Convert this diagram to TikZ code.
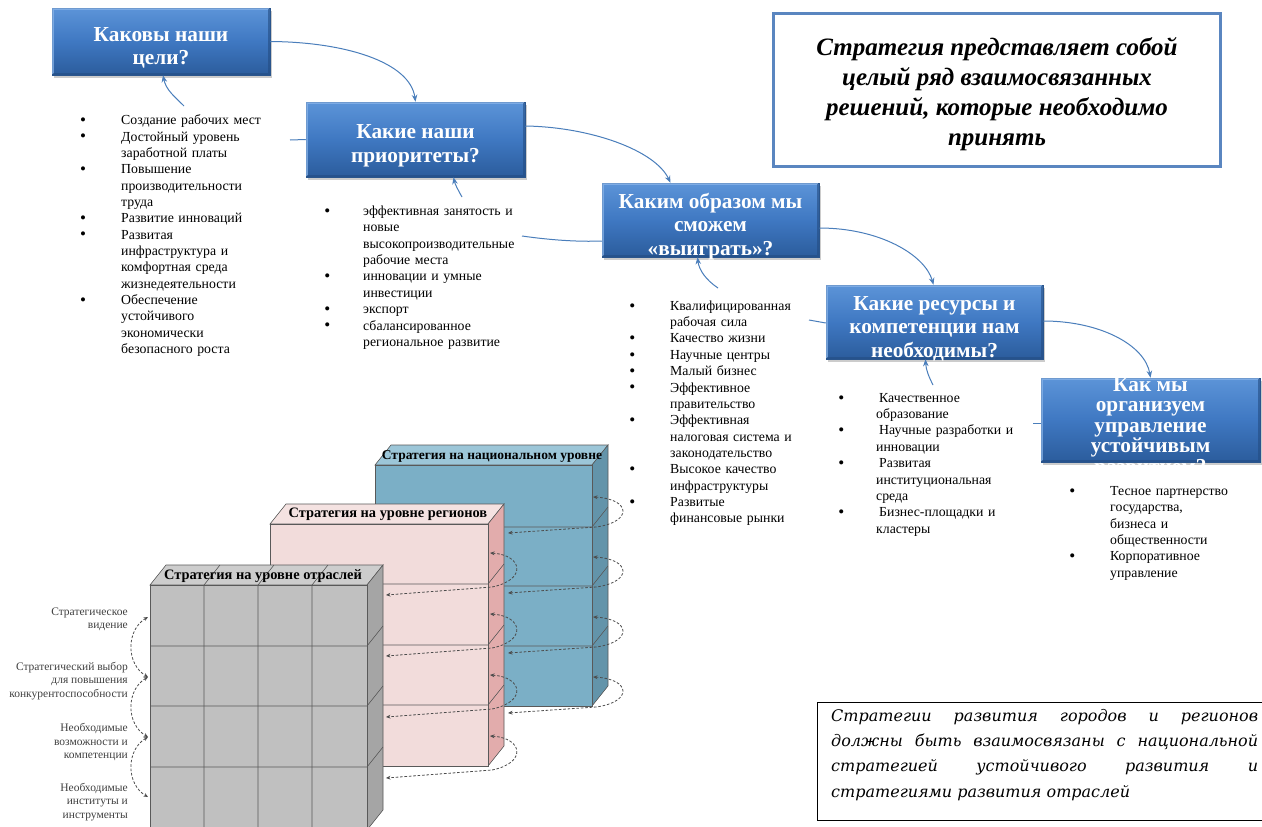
\documentclass[tikz,border=0pt]{standalone}
\usepackage{fontspec}
\setmainfont{Liberation Serif}
\newfontfamily\djs{DejaVu Serif}
\usetikzlibrary{arrows.meta,shadows}

\definecolor{qtop}{HTML}{5C94D8}
\definecolor{qmid}{HTML}{3F78C2}
\definecolor{qbot}{HTML}{2B5C9C}
\definecolor{qedge}{HTML}{2A558C}
\definecolor{qlight}{HTML}{8DB8EC}
\definecolor{qdark}{HTML}{234C82}
\definecolor{conncol}{HTML}{4A7EBB}
\definecolor{frameblue}{HTML}{5A86C0}
\definecolor{natF}{HTML}{7BAFC6}
\definecolor{natS}{HTML}{6394AA}
\definecolor{natT}{HTML}{9CC6D8}
\definecolor{regF}{HTML}{F2DCDB}
\definecolor{regS}{HTML}{E2ACAC}
\definecolor{regT}{HTML}{F4E2E1}
\definecolor{secF}{HTML}{C0C0C0}
\definecolor{secS}{HTML}{A5A5A5}
\definecolor{secT}{HTML}{CDCDCD}

\newcommand{\bul}{\raisebox{-0.8pt}{\fontsize{17}{17}\selectfont\textbullet}}
\newcommand{\blist}[2]{\begin{list}{\bul}{\setlength{\leftmargin}{37pt}\setlength{\labelsep}{#1}\setlength{\labelwidth}{6pt}\setlength{\itemsep}{0pt}\setlength{\parsep}{0pt}\setlength{\topsep}{0pt}\setlength{\partopsep}{0pt}\setlength{\itemindent}{0pt}}#2\end{list}}

\newcommand{\slab}[7]{%
  \filldraw[blkedge,fill=#7] (#1,#2) -- (#1+16,#2-20) -- (#3+16,#2-20) -- (#3,#2) -- cycle;
  \filldraw[blkedge,fill=#6] (#3,#2) -- (#3+16,#2-20) -- (#3+16,#4-20) -- (#3,#4) -- cycle;
  \filldraw[blkedge,fill=#5] (#1,#2) rectangle (#3,#4);}

\newcommand{\bevel}[1]{%
  \draw[draw=qlight,line width=2pt,opacity=0.7] ([shift={(1.6pt,1.6pt)}]#1.south west) -- ([shift={(1.6pt,-1.6pt)}]#1.north west) -- ([shift={(-1.6pt,-1.6pt)}]#1.north east);
  \draw[draw=qdark,line width=2pt,opacity=0.6] ([shift={(-1.6pt,-1.6pt)}]#1.north east) -- ([shift={(-1.6pt,1.6pt)}]#1.south east) -- ([shift={(1.6pt,1.6pt)}]#1.south west);}

\begin{document}
\begin{tikzpicture}[x=1pt,y=-1pt,
  blkedge/.style={draw=black!65,line width=0.6pt},
  loopar/.style={draw=black!70,line width=0.8pt,dash pattern=on 2.6pt off 1.8pt,
    {Stealth[length=4.5pt,width=3.8pt]}-{Stealth[length=4.5pt,width=3.8pt]}},
  blktitle/.style={inner sep=0pt,font=\bfseries\fontsize{14.4}{16}\selectfont},
  glabel/.style={inner sep=0pt,align=right,anchor=east,text=black!75,font=\fontsize{11.5}{13.3}\selectfont},
  qbox/.style={rectangle,draw=qedge,line width=0.5pt,top color=qtop,bottom color=qbot,middle color=qmid,
    inner sep=0pt,drop shadow={opacity=0.4,shadow xshift=2pt,shadow yshift=-3pt}},
  qtxt/.style={inner sep=0pt,align=center,text=white,font=\bfseries\fontsize{21.3}{23.5}\selectfont},
  conn/.style={draw=conncol,line width=1pt,-{Stealth[length=7pt,width=5.5pt]}},
  connl/.style={draw=conncol,line width=1pt},
  lst/.style={anchor=north west,inner sep=0pt,text width=200pt,align=left,font=\fontsize{13.8}{16.35}\selectfont}
]
\useasboundingbox (0,0) rectangle (1262,827);
\fill[white] (0,0) rectangle (1262,827);

% ---------- 3D blocks ----------
\slab{375}{465}{592}{706}{natF}{natS}{natT}
\foreach \r in {527,586,646}{\draw[blkedge] (375,\r) -- (592,\r) -- (608,\r-20);}
\node[blktitle,font=\bfseries\fontsize{13.5}{15}\selectfont] (tnat) at (492,456) {Стратегия на национальном уровне};

\slab{270}{524}{488}{766}{regF}{regS}{regT}
\foreach \r in {584,645,705}{\draw[blkedge] (270,\r) -- (488,\r) -- (504,\r-20);}
\node[blktitle] (treg) at (388,514) {Стратегия на уровне регионов};

\slab{150}{585}{367}{830}{secF}{secS}{secT}
\foreach \r in {646,706,767}{\draw[blkedge] (150,\r) -- (367,\r) -- (383,\r-20);}
\foreach \c in {204,258,312}{\draw[blkedge] (\c,830) -- (\c,585) -- (\c+16,565);}
\node[blktitle] (tsec) at (263,576) {Стратегия на уровне отраслей};

% dashed loops
\foreach \k in {0,1,2,3}{
  \draw[loopar] (593,497+60*\k) .. controls (631,499+60*\k) and (633,522+60*\k) .. (596,527+60*\k) -- (508,533+60*\k);
  \draw[loopar] (490,553+61*\k) .. controls (523,555+61*\k) and (527,580+61*\k) .. (492,587+61*\k) -- (386,595+61*\k);
}
\foreach \k in {0,1,2}{
  \draw[loopar] (148,617+60*\k) .. controls (126,630+60*\k) and (126,664+60*\k) .. (148,677+60*\k);
}
\node[glabel] (g1) at (128,619.5) {Стратегическое\\видение};
\node[glabel] (g2) at (128,681) {Стратегический выбор\\для повышения\\конкурентоспособности};
\node[glabel] (g3) at (128,742) {Необходимые\\возможности и\\компетенции};
\node[glabel] (g4) at (128,802) {Необходимые\\институты и\\инструменты};

% ---------- question boxes ----------
\node[qbox,minimum width=218pt,minimum height=67pt] (b1) at (161,41.5) {};
\node[qbox,minimum width=219pt,minimum height=75pt] (b2) at (415.5,139.5) {};
\node[qbox,minimum width=217pt,minimum height=74pt] (b3) at (710.5,220) {};
\node[qbox,minimum width=217pt,minimum height=74pt] (b4) at (934.5,322) {};
\node[qbox,minimum width=219pt,minimum height=84pt] (b5) at (1150.5,420) {};
\bevel{b1}\bevel{b2}\bevel{b3}\bevel{b4}\bevel{b5}
\node[qtxt] (b1t) at ([yshift=-6.5pt]b1.center) {Каковы наши\\цели?};
\node[qtxt] (b2t) at ([yshift=-6.5pt]b2.center) {Какие наши\\приоритеты?};
\node[qtxt] (b3t) at ([yshift=-6.5pt]b3.center) {Каким образом мы\\сможем\\«выиграть»?};
\node[qtxt] (b4t) at ([yshift=-6.5pt]b4.center) {Какие ресурсы и\\компетенции нам\\необходимы?};
\node[qtxt,font=\bfseries\fontsize{21.3}{20.6}\selectfont] (b5t) at ([yshift=-7.5pt]b5.center) {Как мы\\организуем\\управление\\устойчивым\\развитием?};

% ---------- lists ----------
\node[lst] (L1) at (84,108.2) {\blist{35pt}{%
\item\strut Создание рабочих мест
\item\strut Достойный уровень\\заработной платы
\item\strut Повышение\\производительности\\труда
\item\strut Развитие инноваций
\item\strut Развитая\\инфраструктура и\\комфортная среда\\жизнедеятельности
\item\strut Обеспечение\\устойчивого\\экономически\\безопасного роста}};

\node[lst,text width=190pt] (L2) at (326,199) {\blist{33pt}{%
\item\strut эффективная занятость и\\новые\\высокопроизводительные\\рабочие места
\item\strut инновации и умные\\инвестиции
\item\strut экспорт
\item\strut сбалансированное\\региональное развитие}};

\node[lst,text width=180pt] (L3) at (633,293.7) {\blist{35pt}{%
\item\strut Квалифицированная\\рабочая сила
\item\strut Качество жизни
\item\strut Научные центры
\item\strut Малый бизнес
\item\strut Эффективное\\правительство
\item\strut Эффективная\\налоговая система и\\законодательство
\item\strut Высокое качество\\инфраструктуры
\item\strut Развитые\\финансовые рынки}};

\node[lst,text width=180pt] (L4) at (839,385.7) {\blist{32pt}{%
\item\strut\hspace{3pt}Качественное\\образование
\item\strut\hspace{3pt}Научные разработки и\\инновации
\item\strut\hspace{3pt}Развитая\\институциональная\\среда
\item\strut\hspace{3pt}Бизнес-площадки и\\кластеры}};

\node[lst,text width=170pt] (L5) at (1073,479) {\blist{35pt}{%
\item\strut Тесное партнерство\\государства,\\бизнеса и\\общественности
\item\strut Корпоративное\\управление}};

% ---------- connectors ----------
\coordinate (l1t) at (184,106);
\coordinate (l1r) at (290,140);
\coordinate (l2t) at (462,197);
\coordinate (l2r) at (522,236);
\coordinate (l3t) at (718,288);
\coordinate (l3r) at (809,320);
\coordinate (l4t) at (933,385);
\coordinate (l4r) at (1033,423);

\draw[conn] (b1.east) .. controls (345,42) and (410,62) .. (b2.north);
\draw[conn] (l1t) .. controls (175,97) and (166,90) .. ([xshift=2pt]b1.south);
\draw[connl] (l1r) -- (b2.west);
\draw[conn] ([yshift=13.5pt]b2.east) .. controls (590,127) and (655,150) .. ([xshift=-40pt]b3.north);
\draw[conn] (l2t) .. controls (458,190) and (455,184) .. ([xshift=38pt]b2.south);
\draw[connl] (l2r) .. controls (550,240) and (578,242) .. ([yshift=-21pt]b3.west);
\draw[conn] ([yshift=-8pt]b3.east) .. controls (880,228) and (925,255) .. ([xshift=-1pt]b4.north);
\draw[conn] (l3t) .. controls (706,280) and (699,270) .. ([xshift=-13pt]b3.south);
\draw[connl] (l3r) -- ([yshift=-1pt]b4.west);
\draw[conn] ([yshift=1pt]b4.east) .. controls (1100,321) and (1145,345) .. (b5.north);
\draw[conn] (l4t) .. controls (929,377) and (926,370) .. ([xshift=-9pt]b4.south);
\draw[connl] (l4r) -- ([yshift=-3pt]b5.west);

% ---------- notes ----------
\node[draw=frameblue,line width=3pt,minimum width=447pt,minimum height=153pt,inner sep=0pt] (note1) at (996.5,89.5) {};
\node[inner sep=0pt,align=center,font=\bfseries\itshape\fontsize{25}{30}\selectfont] (note1t) at (997,94)
  {Стратегия представляет собой\\целый ряд взаимосвязанных\\решений, которые необходимо\\принять};

\node[draw=black,line width=0.9pt,minimum width=458pt,minimum height=118pt,inner sep=0pt,anchor=north west] (note2) at (817,702) {};
\node[anchor=north west,inner sep=0pt,text width=427pt,align=justify,
  font=\djs\itshape\fontsize{16}{25.3}\selectfont] (note2t) at (831,703.3)
  {\tolerance=10000\relax\hyphenpenalty=10000\relax\strut Стратегии развития городов и регионов\linebreak должны быть взаимосвязаны с национальной\linebreak стратегией устойчивого развития и\linebreak стратегиями развития отраслей};
\end{tikzpicture}
\end{document}
